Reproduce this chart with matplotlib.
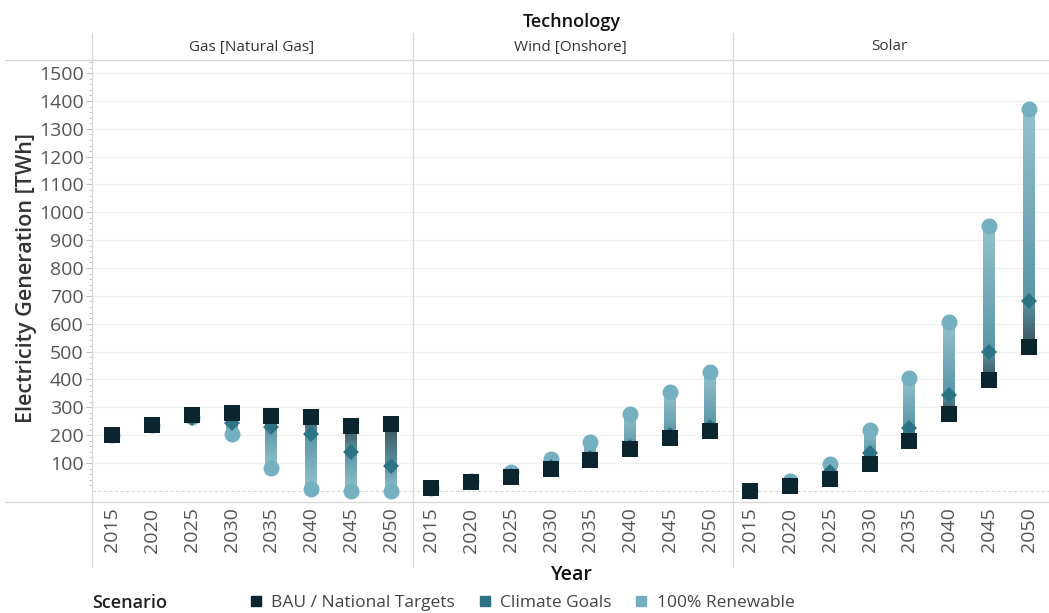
import numpy as np
import matplotlib.pyplot as plt
from matplotlib.colors import to_rgb
from matplotlib.lines import Line2D

plt.rcParams['font.family'] = ['Open Sans', 'DejaVu Sans']

# Data (TWh)
years = ['2015', '2020', '2025', '2030', '2035', '2040', '2045', '2050']
techs = ['Gas [Natural Gas]', 'Wind [Onshore]', 'Solar']

gas_bau = [200, 237, 273, 278, 270, 265, 232, 240]
gas_climate = [200, 237, 262, 244, 231, 205, 141, 90]
gas_renew = [200, 237, 266, 205, 82, 8, 0, 0]

wind_bau = [12, 32, 51, 80, 111, 150, 189, 215]
wind_climate = [12, 33, 55, 85, 118, 158, 200, 230]
wind_renew = [12, 35, 66, 114, 177, 275, 354, 427]

solar_bau = [0, 18, 44, 97, 179, 275, 398, 517]
solar_climate = [0, 20, 69, 135, 225, 345, 500, 683]
solar_renew = [0, 35, 96, 219, 405, 607, 952, 1370]

scenarios = ['BAU / National Targets', 'Climate Goals', '100% Renewable']

bau_col = '#0a252d'
climate_col = '#2d7386'
renew_col = '#74b0bf'
line_cols = ['#3a525a', '#5b95a6', '#93c2ce']


def gradient(ax, x, y0, y1, c0, c1, half=0.15):
    # vertical colour ramp from y0 (colour c0) to y1 (colour c1)
    if y0 == y1:
        return
    lo, hi = min(y0, y1), max(y0, y1)
    t = np.linspace(0, 1, 200)[:, None]
    a, b = np.array(to_rgb(c0)), np.array(to_rgb(c1))
    ramp = a * (1 - t) + b * t
    if y0 > y1:
        ramp = ramp[::-1]
    img = ramp[:, None, :]
    ax.imshow(img, extent=[x - half, x + half, lo, hi], origin='lower',
              aspect='auto', interpolation='bilinear', zorder=2)


fig = plt.figure(figsize=(10.49, 6.13), dpi=100)
W, H = 1049, 613
left, right, top, bottom = 92 / W, 1049 / W, 1 - 60 / H, 1 - 502 / H
pw = (right - left) / 3
axes = [fig.add_axes([left + i * pw, bottom, pw, top - bottom]) for i in range(3)]

data = [(gas_bau, gas_climate, gas_renew),
        (wind_bau, wind_climate, wind_renew),
        (solar_bau, solar_climate, solar_renew)]

x = np.arange(len(years))
for i, ax in enumerate(axes):
    bau, clim, ren = data[i]
    for k in range(len(years)):
        gradient(ax, x[k], bau[k], clim[k], line_cols[0], line_cols[1])
        gradient(ax, x[k], clim[k], ren[k], line_cols[1], line_cols[2])
    ax.plot(x, ren, 'o', color=renew_col, ms=11.5, mew=0, zorder=3)
    ax.plot(x, clim, 'D', color=climate_col, ms=8.5, mew=0, zorder=4)
    ax.plot(x, bau, 's', color=bau_col, ms=12, mew=0, zorder=5)

    ax.set_xlim(-0.5, len(years) - 0.5)
    ax.set_ylim(-40, 1547)
    ax.set_xticks(x)
    ax.set_xticklabels(years, rotation=90, fontsize=14, color='#555555')
    ax.tick_params(axis='x', length=0, pad=4)
    ax.set_yticks(np.arange(100, 1600, 100))
    ax.grid(axis='y', color='#f0f0f0', lw=1)
    ax.axhline(0, color='#d8d8d8', lw=0.8, ls=(0, (3, 2)), zorder=1)
    ax.set_axisbelow(True)
    for s in ax.spines.values():
        s.set_visible(False)
    if i == 0:
        ax.set_yticks(np.arange(20, 1560, 20), minor=True)
        ax.tick_params(axis='y', which='major', labelsize=14, labelcolor='#555555',
                       length=4, color='#bbbbbb', pad=2)
        ax.tick_params(axis='y', which='minor', length=2, color='#bbbbbb')
    else:
        ax.tick_params(axis='y', which='both', left=False, labelleft=False)
    fig.text(left + (i + 0.5) * pw, 1 - 47 / H, techs[i], ha='center', va='center',
             fontsize=11, color='#333333')

# frame lines of the panel layout
gl = '#d9d9d9'
for xp in [92, 413, 733]:
    fig.add_artist(Line2D([xp / W, xp / W], [1 - 33 / H, 1 - 567 / H], color=gl, lw=1))
for yp in [60, 502]:
    fig.add_artist(Line2D([5 / W, 1], [1 - yp / H, 1 - yp / H], color=gl, lw=1))

fig.text(572 / W, 1 - 22 / H, 'Technology', ha='center', va='center',
         fontsize=13, fontweight='semibold', color='#111111')
fig.text(572 / W, 1 - 575 / H, 'Year', ha='center', va='center',
         fontsize=14, fontweight='semibold', color='#111111')
fig.text(27 / W, 1 - 278 / H, 'Electricity Generation [TWh]', ha='center', va='center',
         rotation=90, fontsize=15.5, fontweight='semibold', color='#333333')

# legend
fig.text(92 / W, 1 - 603 / H, 'Scenario', ha='left', va='center',
         fontsize=13, fontweight='semibold', color='#222222')
handles = [Line2D([], [], ls='none', marker='s', ms=7, color=c)
           for c in [bau_col, climate_col, renew_col]]
fig.legend(handles, scenarios, loc='center left', bbox_to_anchor=(240 / W, 1 - 603 / H),
           ncol=3, frameon=False, fontsize=12.5, handlelength=0.8, handletextpad=0.5,
           columnspacing=1.3, labelcolor='#444444', borderpad=0)

fig.savefig('out.png', dpi=100)
